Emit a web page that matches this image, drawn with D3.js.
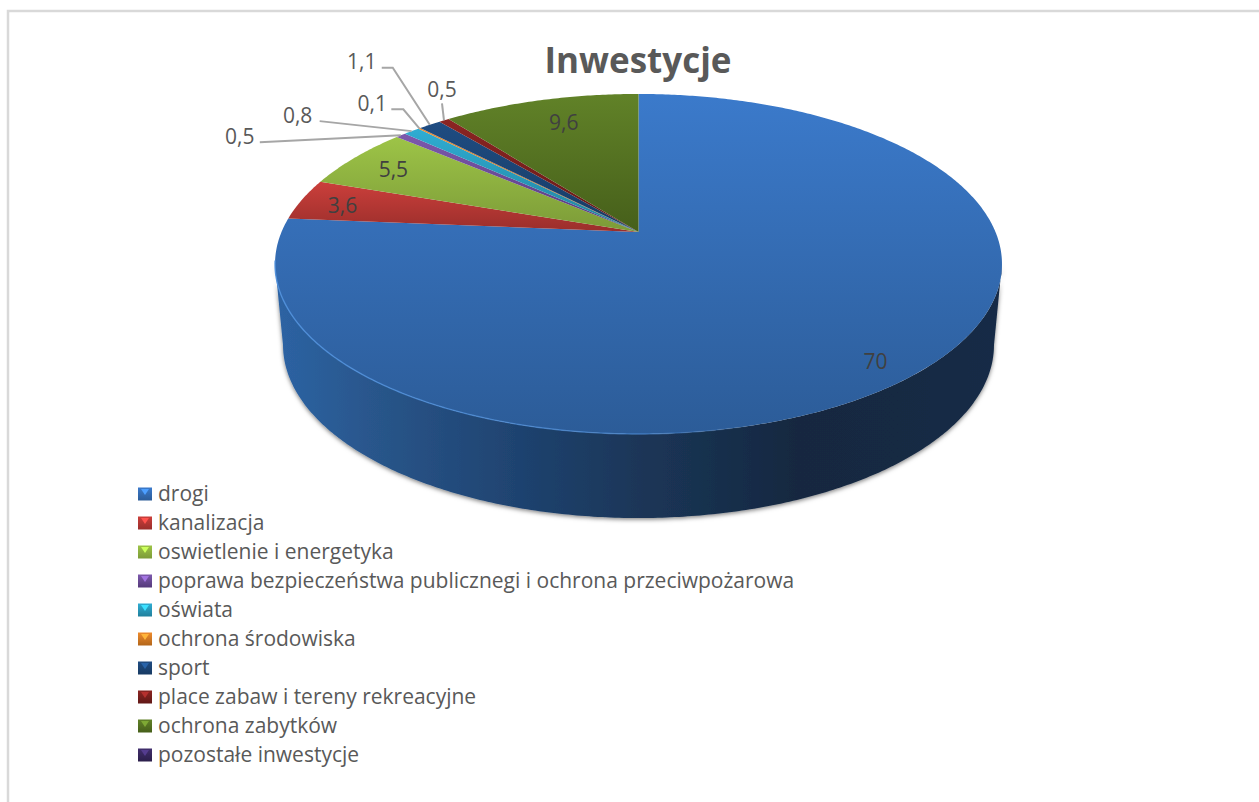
<!DOCTYPE html>
<html>
<head>
<meta charset="utf-8">
<script src="https://cdn.jsdelivr.net/npm/d3@7"></script>
<style>
  body { margin: 0; background: white; }
  svg { display: block; }
  text { font-family: "Open Sans", Lato, sans-serif; fill: #595959; }
</style>
</head>
<body>
<svg width="1259" height="802"></svg>
<script>
const categories = ["drogi", "kanalizacja", "oswietlenie i energetyka",
  "poprawa bezpieczeństwa publicznegi i ochrona przeciwpożarowa", "oświata",
  "ochrona środowiska", "sport", "place zabaw i tereny rekreacyjne",
  "ochrona zabytków", "pozostałe inwestycje"]
const values = [70, 3.6, 5.5, 0.5, 0.8, 0.1, 1.1, 0.5, 9.6, 0]
const valueLabels = ["70", "3,6", "5,5", "0,5", "0,8", "0,1", "1,1", "0,5", "9,6", ""]
const lightColors = ["#3b7acb", "#cb3f3b", "#9dc447", "#7d59ad", "#2fadd3", "#ee8b2d", "#1f4c82", "#8c2523", "#618228", "#412e6d"]
const darkColors = ["#2c5c98", "#9a2e2b", "#7c9b38", "#54397a", "#21809c", "#b3661a", "#173a63", "#611816", "#465f1a", "#2b1e4a"]

let svg = d3.select("svg")
let defs = svg.append("defs")

// chart frame, only the top and left edges show
svg.append("path")
  .attr("d", "M8,802V11H1259")
  .style("fill", "none")
  .style("stroke", "#d9d9d9")
  .style("stroke-width", 2.5)

svg.append("text")
  .attr("x", 638)
  .attr("y", 73)
  .attr("text-anchor", "middle")
  .style("font-size", "35px")
  .style("font-weight", "bold")
  .text("Inwestycje")

// the pie is a circle seen in perspective, the apex sits above the ellipse centre
let k = -0.188
let project = (angle, f = 1, level = 0) => {
  let u = Math.sin(angle) * f
  let v = -Math.cos(angle) * f
  let w = 1 + k * v
  let x = 638.5 + 357 * u / w
  let y = 232 + 164 * v / w
  if (level === 1) {
    // floor of the pie, a bit narrower and lower
    x = 638.5 + (x - 638.5) * 0.978
    y = 345 + (y - 264) * 1.018
  }
  return [x, y]
}

let arcPoints = (a0, a1, level = 0) => {
  let n = Math.max(2, Math.ceil(Math.abs(a1 - a0) / 0.01))
  return d3.range(n + 1).map(i => project(a0 + (a1 - a0) * i / n, 1, level))
}

let line = d3.line()
let pie = d3.pie().sort(null).value(d => d)
let slices = pie(values)

// gradients for the top of every slice
categories.forEach((c, i) => {
  let g = defs.append("linearGradient")
    .attr("id", "top" + i)
    .attr("x1", 0).attr("y1", 0).attr("x2", 0).attr("y2", 1)
  g.append("stop").attr("offset", 0).attr("stop-color", lightColors[i])
  g.append("stop").attr("offset", 1).attr("stop-color", darkColors[i])
})

// wall shading runs from left to right
let wallStops = [[0, "#2d63a3"], [0.15, "#285488"], [0.33, "#1f4370"], [0.5, "#1b3658"], [0.72, "#152840"], [1, "#152a46"]]
let wallGrad = defs.append("linearGradient")
  .attr("id", "wall")
  .attr("gradientUnits", "userSpaceOnUse")
  .attr("x1", 278).attr("y1", 0).attr("x2", 1000).attr("y2", 0)
wallStops.forEach(s => wallGrad.append("stop").attr("offset", s[0]).attr("stop-color", s[1]))

let edgeGrad = defs.append("linearGradient")
  .attr("id", "edge")
  .attr("gradientUnits", "userSpaceOnUse")
  .attr("x1", 278).attr("y1", 0).attr("x2", 760).attr("y2", 0)
edgeGrad.append("stop").attr("offset", 0).attr("stop-color", "#4f90dc").attr("stop-opacity", 0.9)
edgeGrad.append("stop").attr("offset", 0.75).attr("stop-color", "#4f90dc").attr("stop-opacity", 0.6)
edgeGrad.append("stop").attr("offset", 1).attr("stop-color", "#4f90dc").attr("stop-opacity", 0)

let shadow = defs.append("filter")
  .attr("id", "shadow")
  .attr("x", "-5%").attr("y", "-5%").attr("width", "110%").attr("height", "115%")
shadow.append("feDropShadow")
  .attr("dx", 0).attr("dy", 1.5).attr("stdDeviation", 2.2)
  .attr("flood-color", "#000").attr("flood-opacity", 0.5)

// only the front of the wall can be seen
let frontStart = Math.PI - Math.acos(-k)
let frontEnd = Math.PI + Math.acos(-k)
let wallGroup = svg.append("g").attr("filter", "url(#shadow)")
slices.forEach(s => {
  let a0 = Math.max(s.startAngle, frontStart)
  let a1 = Math.min(s.endAngle, frontEnd)
  if (a1 <= a0) return
  let pts = arcPoints(a0, a1, 0).concat(arcPoints(a1, a0, 1))
  wallGroup.append("path")
    .attr("d", line(pts) + "Z")
    .style("fill", s.index === 0 ? "url(#wall)" : darkColors[s.index])
})

// top of the pie
slices.forEach(s => {
  if (s.value === 0) return
  let pts = [project(0, 0)].concat(arcPoints(s.startAngle, s.endAngle))
  svg.append("path")
    .attr("d", line(pts) + "Z")
    .style("fill", `url(#top${s.index})`)
})

svg.append("path")
  .attr("d", line(arcPoints(frontStart - 0.1, frontEnd + 0.02).reverse()))
  .style("fill", "none")
  .style("stroke", "url(#edge)")
  .style("stroke-width", 1.4)

// labels inside the slices: slice, share of radius and a small nudge
let insideLabels = [[0, 0.88, -5, 9], [1, 0.87, -2, 2], [2, 0.85, -1, 2], [8, 0.8, 6, 0]]
insideLabels.forEach(d => {
  let s = slices[d[0]]
  let p = project((s.startAngle + s.endAngle) / 2, d[1])
  svg.append("text")
    .attr("x", p[0] + d[2])
    .attr("y", p[1] + d[3] + 7)
    .attr("text-anchor", "middle")
    .style("font-size", "21px")
    .style("fill", "#404040")
    .text(valueLabels[d[0]])
})

// labels outside with leader lines, offsets measured from the slice rim
let outsideLabels = [
  { i: 3, text: [-161, 2], bends: [[-141, 7]] },
  { i: 4, text: [-114, -15], bends: [[-92, -10]] },
  { i: 5, text: [-47, -24], bends: [[-16, -19], [-28, -19]] },
  { i: 6, text: [-68, -63], bends: [[-37, -57], [-48, -57]] },
  { i: 7, text: [-2, -30], bends: [[-2, -17]] }
]
outsideLabels.forEach(d => {
  let s = slices[d.i]
  let p = project((s.startAngle + s.endAngle) / 2)
  let pts = [p].concat(d.bends.map(b => [p[0] + b[0], p[1] + b[1]]))
  svg.append("path")
    .attr("d", line(pts))
    .style("fill", "none")
    .style("stroke", "#a6a6a6")
    .style("stroke-width", 2)
  svg.append("text")
    .attr("x", p[0] + d.text[0])
    .attr("y", p[1] + d.text[1] + 7)
    .attr("text-anchor", "middle")
    .style("font-size", "21px")
    .text(valueLabels[d.i])
})

// legend
let legendY = d3.scalePoint().domain(categories).range([494, 755])
categories.forEach((c, i) => {
  let y = legendY(c)
  svg.append("rect")
    .attr("x", 138)
    .attr("y", y - 6.5)
    .attr("width", 14)
    .attr("height", 13)
    .style("fill", `url(#top${i})`)
  // bevel of the marker
  svg.append("path")
    .attr("d", `M141,${y - 5}H149L145,${y + 1}Z`)
    .style("fill", lightColors[i])
    .style("filter", "brightness(1.3)")
  svg.append("text")
    .attr("x", 158)
    .attr("y", y + 7)
    .style("font-size", "21px")
    .text(c)
})
</script>
</body>
</html>
